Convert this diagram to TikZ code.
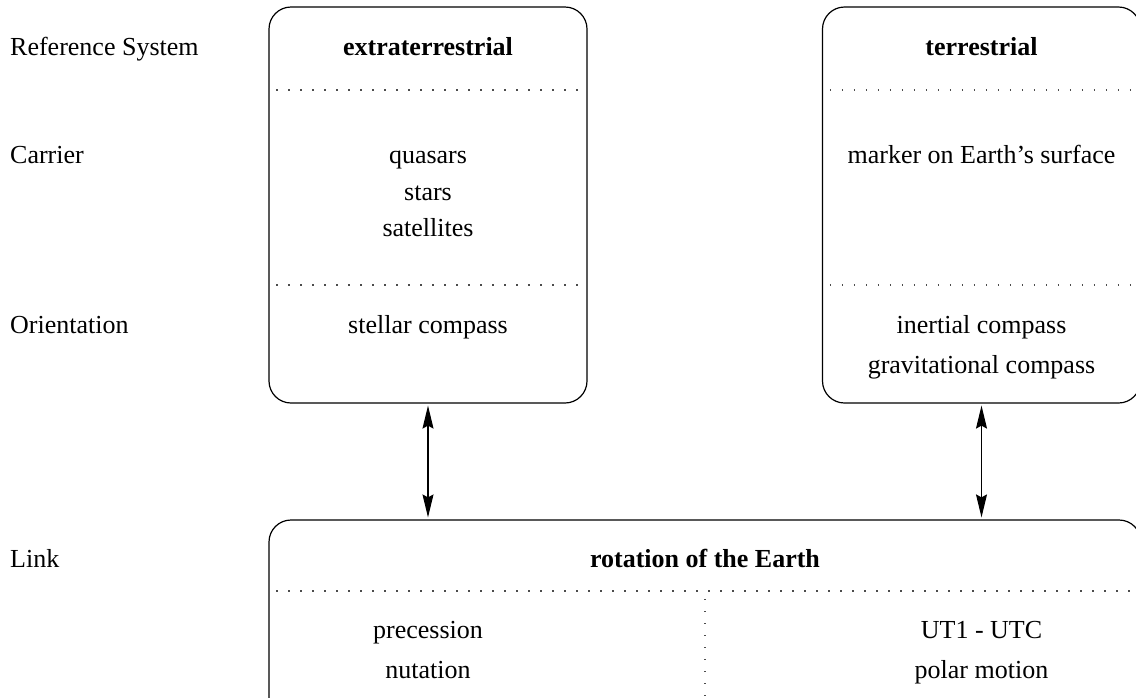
\documentclass[tikz,border=0pt]{standalone}
\usepackage{fontspec}
\setmainfont{Liberation Serif}
\usetikzlibrary{arrows.meta}
\begin{document}
\begin{tikzpicture}[x=1pt,y=-1pt,
  box/.style={draw,line width=1.2pt,rounded corners=22pt,inner sep=0pt},
  txt/.style={anchor=base,inner sep=0pt,font=\fontsize{26}{31}\selectfont},
  lbl/.style={anchor=base west,inner sep=0pt,font=\fontsize{26}{31}\selectfont},
  sep/.style={line width=1.4pt,gray!60!black,dash pattern=on 1.4pt off 10.6pt,dash phase=-8pt},
  link/.style={{Stealth[length=23pt,width=11pt,inset=3pt]}-{Stealth[length=23pt,width=11pt,inset=3pt]},line width=1.2pt,black,shorten <=2pt,shorten >=2pt}]
\useasboundingbox (0,0) rectangle (1136,697);
\clip (0,0) rectangle (1136,697);
% boxes
\node[box,minimum width=318pt,minimum height=396pt] (ext) at (428,205) {};
\node[box,minimum width=318pt,minimum height=396pt] (ter) at (981.5,205) {};
\node[box,minimum width=872pt,minimum height=200pt] (rot) at (705,620) {};
% separators
\draw[sep] (ext.west |- 0,90) -- (ext.east |- 0,90);
\draw[sep] (ext.west |- 0,285) -- (ext.east |- 0,285);
\draw[sep] (ter.west |- 0,90) -- (ter.east |- 0,90);
\draw[sep] (ter.west |- 0,285) -- (ter.east |- 0,285);
\draw[sep] (rot.west |- 0,591) -- (rot.east |- 0,591);
\draw[sep] (rot.center |- 0,591) -- (rot.south);
% left labels
\node[lbl] (l1) at (10,55) {Reference System};
\node[lbl] (l2) at (10,163) {Carrier};
\node[lbl] (l3) at (10,333) {Orientation};
\node[lbl] (l4) at (10,567) {Link};
% box texts
\node[txt,font=\fontsize{26}{31}\selectfont\bfseries] (t1) at (428,55) {extraterrestrial};
\node[txt] (q) at (428,163) {quasars};
\node[txt] (s) at (428,200) {stars};
\node[txt] (sa) at (428,236) {satellites};
\node[txt] (sc) at (428,333) {stellar compass};
\node[txt,font=\fontsize{26}{31}\selectfont\bfseries] (t2) at (981.5,55) {terrestrial};
\node[txt] (m) at (981.5,163) {marker on Earth’s surface};
\node[txt] (ic) at (981.5,333) {inertial compass};
\node[txt] (gc) at (981.5,373) {gravitational compass};
\node[txt,font=\fontsize{26}{31}\selectfont\bfseries] (t3) at (705,567) {rotation of the Earth};
\node[txt] (p) at (428,638) {precession};
\node[txt] (n) at (428,678) {nutation};
\node[txt] (u) at (981.5,638) {UT1 - UTC};
\node[txt] (pm) at (981.5,678) {polar motion};
% links
\draw[link] (ext.south) -- (rot.north -| ext.south);
\draw[link] (ter.south) -- (rot.north -| ter.south);
\end{tikzpicture}
\end{document}
